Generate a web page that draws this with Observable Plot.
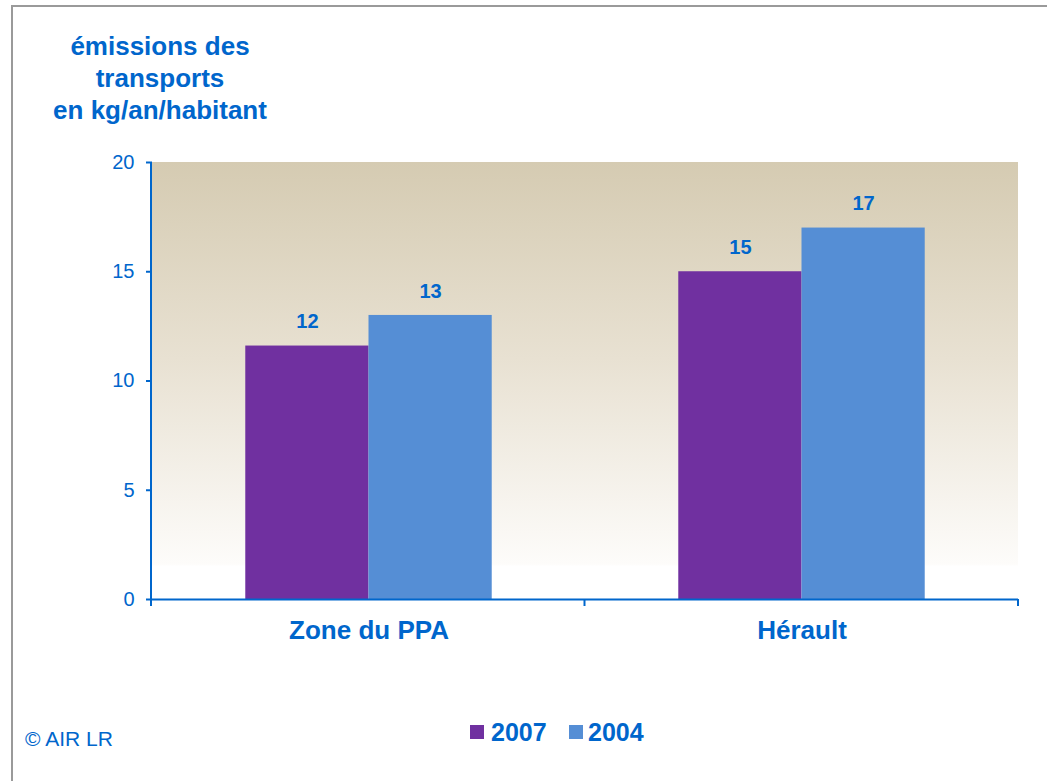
<!DOCTYPE html>
<html>
<head>
<meta charset="utf-8">
<script src="https://cdn.jsdelivr.net/npm/d3@7"></script>
<script src="https://cdn.jsdelivr.net/npm/@observablehq/plot@0.6"></script>
<style>
  html, body { margin: 0; padding: 0; background: #fff; overflow: hidden; }
  #wrap { position: relative; width: 1047px; height: 781px; font-family: Arial, "Liberation Sans", sans-serif; color: #0066cc; }
  #frame { position: absolute; left: 11px; top: 5px; width: 1100px; height: 1000px; border-left: 2px solid #9a9a9a; border-top: 2px solid #9a9a9a; box-sizing: border-box; pointer-events: none; }
  #title { position: absolute; left: 10px; top: 30px; width: 300px; text-align: center; font-weight: bold; font-size: 26px; line-height: 32px; }
  #credit { position: absolute; left: 25px; top: 727px; font-size: 21px; line-height: 24px; }
  .sw { position: absolute; top: 725px; width: 14px; height: 14px; }
  .lg { position: absolute; top: 719px; font-size: 25px; font-weight: bold; line-height: 26px; }
  #chart { position: absolute; left: 0; top: 0; }
</style>
</head>
<body>
<div id="wrap">
  <div id="chart"></div>
  <div id="frame"></div>
  <div id="title">émissions des<br>transports<br>en kg/an/habitant</div>
  <div id="credit">© AIR LR</div>
  <div id="legend"></div>
</div>
<script>
// ---- data ----
const zones = ["Zone du PPA", "Hérault"];
const years = ["2007", "2004"];
const values2007 = [11.6, 15.0];
const values2004 = [13.0, 17.0];
const yTicks = [0, 5, 10, 15, 20];
const yearColors = ["#7030a0", "#558ed5"];

const BLUE = "#0066cc";

const data = [];
zones.forEach((z, i) => {
  data.push({zone: z, year: years[0], value: values2007[i]});
  data.push({zone: z, year: years[1], value: values2004[i]});
});

const W = 1047, H = 781, ML = 151, MR = 29, MT = 162, MB = 182;

const chart = Plot.plot({
  width: W,
  height: H,
  marginLeft: ML,
  marginRight: MR,
  marginTop: MT,
  marginBottom: MB,
  style: {fontFamily: "Arial, 'Liberation Sans', sans-serif", background: "transparent"},
  fx: {domain: zones, paddingInner: 0, paddingOuter: 0, label: null},
  x: {domain: years, paddingInner: 0, paddingOuter: 0.757, round: false, axis: null},
  y: {domain: [0, 20], axis: null},
  color: {domain: years, range: yearColors},
  marks: [
    Plot.barY(data, {fx: "zone", x: "year", y: "value", fill: "year"}),
    Plot.ruleY([0], {stroke: BLUE, strokeWidth: 2}),
    Plot.axisY({ticks: yTicks, tickSize: 6, tickPadding: 12, fontSize: 20, color: BLUE, strokeWidth: 2, label: null}),
    Plot.axisFx({anchor: "bottom", tickSize: 0, tickPadding: 21, fontSize: 26, fontWeight: "bold", color: BLUE, label: null}),
    Plot.text(data, {fx: "zone", x: "year", y: "value", text: d => d3.format(".0f")(d.value), dy: -24, fontSize: 20, fontWeight: "bold", fill: BLUE})
  ]
});
document.getElementById("chart").appendChild(chart);

// background gradient behind the marks, and axis lines
const svg = d3.select(chart);
const ys = chart.scale("y");
const yTop = ys.apply(20), yBot = ys.apply(0);
const bg = svg.insert("g", "g");
const lg = bg.append("defs").append("linearGradient").attr("id", "bgGrad")
  .attr("x1", 0).attr("y1", 0).attr("x2", 0).attr("y2", 1);
lg.append("stop").attr("offset", "0%").attr("stop-color", "#d5cbb2");
lg.append("stop").attr("offset", "45%").attr("stop-color", "#e8e1d2");
lg.append("stop").attr("offset", "92%").attr("stop-color", "#fdfcfa");
lg.append("stop").attr("offset", "92.5%").attr("stop-color", "#ffffff");
lg.append("stop").attr("offset", "100%").attr("stop-color", "#ffffff");
bg.append("rect").attr("x", ML).attr("y", yTop)
  .attr("width", W - ML - MR).attr("height", yBot - yTop)
  .attr("fill", "url(#bgGrad)");

const ax = svg.append("g").attr("stroke", BLUE).attr("stroke-width", 2);
ax.append("line").attr("x1", ML).attr("x2", ML).attr("y1", yTop).attr("y2", yBot);
for (let i = 0; i <= zones.length; i++) {
  const x = ML + (W - ML - MR) * i / zones.length;
  ax.append("line").attr("x1", x).attr("x2", x).attr("y1", yBot).attr("y2", yBot + 7);
}

// legend
const legend = document.getElementById("legend");
const swX = [470, 569];
const txX = [491, 588];
years.forEach((y, i) => {
  const s = document.createElement("div");
  s.className = "sw"; s.style.left = swX[i] + "px"; s.style.background = yearColors[i];
  legend.appendChild(s);
  const t = document.createElement("div");
  t.className = "lg"; t.style.left = txX[i] + "px"; t.textContent = y;
  legend.appendChild(t);
});
</script>
</body>
</html>
